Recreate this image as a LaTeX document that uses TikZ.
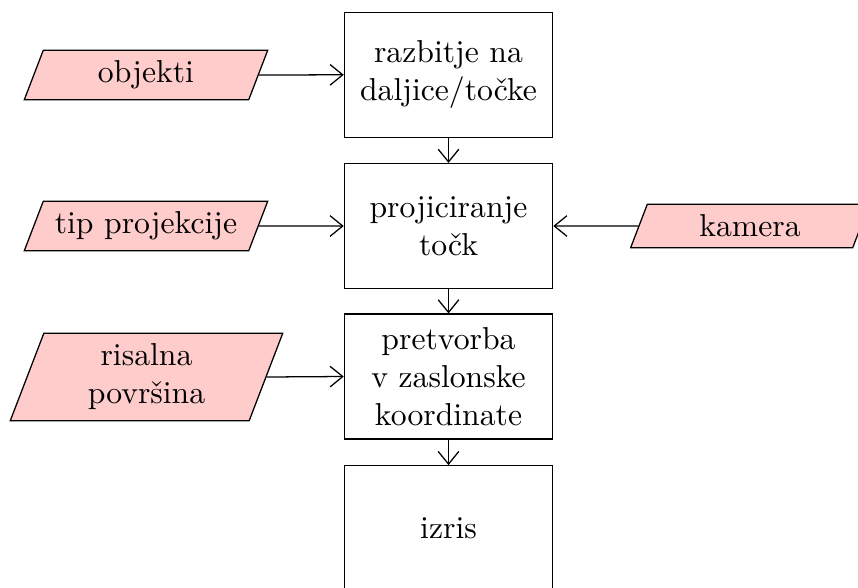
\documentclass[tikz,border=0pt]{standalone}
\usetikzlibrary{shapes.geometric,arrows.meta}
\definecolor{inpink}{RGB}{255,204,204}
\begin{document}
\begin{tikzpicture}[x=0.3155pt,y=-0.3155pt,
  stepbox/.style={draw, rectangle, minimum width=65.7pt, minimum height=39.4pt, text width=58pt, align=center},
  inbox/.style={draw, fill=inpink, trapezium, trapezium left angle=69, trapezium right angle=111, text width=59pt, inner xsep=2.9pt, align=center},
  flow/.style={-{Straight Barb[length=4pt,width=6.5pt]}}]
\clip (0,0) rectangle (858,587);
\useasboundingbox (0,0) rectangle (858,587);
\node[stepbox] (b1) at (448.5,74.8) {razbitje na daljice/točke};
\node[stepbox] (b2) at (448.5,226) {projiciranje točk};
\node[stepbox] (b3) at (448.5,376.5) {pretvorba v zaslonske koordinate};
\node[stepbox] (b4) at (448.5,528.2) {izris};
\node[inbox] (obj) at (146,75) {objekti};
\node[inbox] (tip) at (146,226) {tip projekcije};
\node[inbox] (ris) at (146.5,377) {risalna\\površina};
\node[inbox] (kam) at (750,226) {kamera};
\draw[flow] (b1.south) -- (b2.north);
\draw[flow] (b2.south) -- (b3.north);
\draw[flow] (b3.south) -- (b4.north);
\draw[flow] (obj.east) -- (b1.west);
\draw[flow] (tip.east) -- (b2.west);
\draw[flow] (ris.east) -- (b3.west);
\draw[flow] (kam.west) -- (b2.east);
\end{tikzpicture}
\end{document}
